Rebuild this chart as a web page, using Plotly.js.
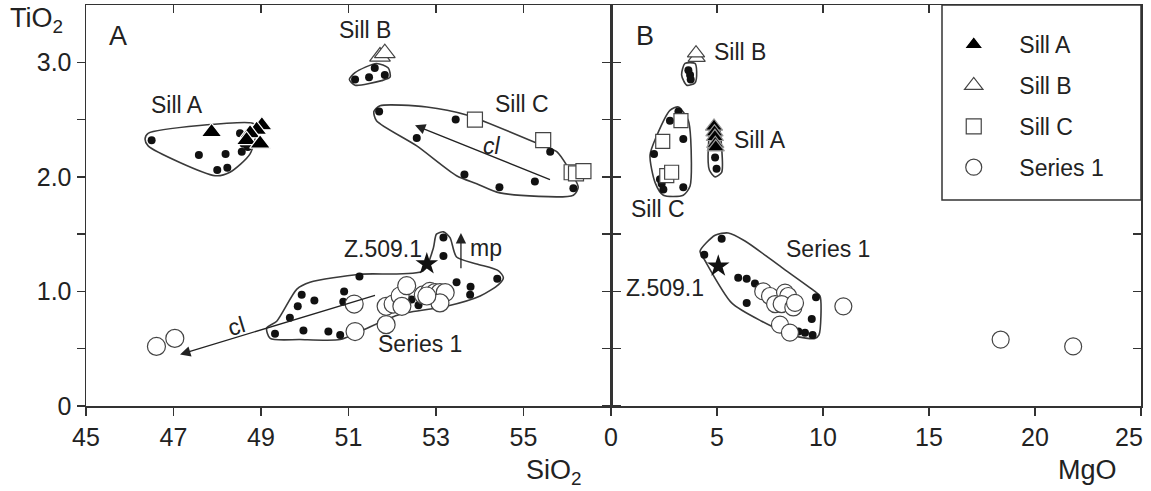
<!DOCTYPE html>
<html>
<head>
<meta charset="utf-8">
<script src="https://cdn.plot.ly/plotly-3.0.1.min.js"></script>
<style>html,body{margin:0;padding:0;background:#fff;}#chart{width:1151px;height:491px;}</style>
</head>
<body>
<div id="chart"></div>
<script>
// ---------- Panel A : SiO2 vs TiO2 ----------
const sillA_tri_si = [47.87, 49.02, 48.90, 48.75, 48.67, 48.98];
const sillA_tri_ti = [2.39, 2.45, 2.41, 2.38, 2.32, 2.29];
const sillA_dot_si = [46.50, 47.58, 48.19, 48.00, 48.23, 48.52, 48.60, 48.56, 48.70];
const sillA_dot_ti = [2.32, 2.19, 2.20, 2.06, 2.08, 2.38, 2.29, 2.22, 2.26];

const sillB_tri_si = [51.72, 51.83];
const sillB_tri_ti = [3.05, 3.08];
const sillB_dot_si = [51.60, 51.15, 51.47, 51.83];
const sillB_dot_ti = [2.95, 2.85, 2.87, 2.89];

const sillC_sq_si = [53.89, 55.45, 56.10, 56.20, 56.37];
const sillC_sq_ti = [2.50, 2.32, 2.04, 2.03, 2.05];
const sillC_dot_si = [51.70, 53.45, 52.56, 53.65, 54.45, 55.26, 56.14, 55.61];
const sillC_dot_ti = [2.57, 2.50, 2.34, 2.02, 1.91, 1.96, 1.90, 2.22];

const ser1_dot_si = [53.17, 53.17, 51.25, 49.93, 49.84, 50.22, 50.90, 50.88, 49.66, 49.32, 49.97, 50.54, 50.81, 53.47, 53.79, 53.78, 54.40, 52.60, 52.44];
const ser1_dot_ti = [1.47, 1.31, 1.13, 0.97, 0.87, 0.92, 1.00, 0.91, 0.77, 0.63, 0.66, 0.65, 0.62, 1.08, 1.04, 0.97, 1.11, 0.88, 0.93];
const ser1_circ_si = [51.13, 51.15, 51.86, 51.86, 52.02, 52.18, 52.33, 52.22, 52.71, 52.86, 52.98, 53.09, 53.21, 53.09, 52.79, 46.61, 47.03];
const ser1_circ_ti = [0.89, 0.65, 0.71, 0.87, 0.89, 0.96, 1.05, 0.87, 0.97, 1.00, 0.99, 0.99, 0.99, 0.90, 0.96, 0.52, 0.59];

const z509_si = [52.79];
const z509_ti_a = [1.24];

// outlines (panel A)
const hullA_si = [46.35, 46.42, 48.79, 48.90, 48.75, 48.29, 47.95, 46.42, 46.35];
const hullA_ti = [2.33, 2.38, 2.47, 2.44, 2.20, 2.04, 2.01, 2.27, 2.33];
const hullB_si = [51.02, 51.15, 51.64, 51.91, 51.95, 51.76, 51.15, 51.02];
const hullB_ti = [2.85, 2.91, 2.99, 2.95, 2.87, 2.84, 2.80, 2.85];
const hullC_si = [51.58, 51.72, 52.79, 53.70, 55.45, 55.76, 55.99, 56.25, 56.14, 54.46, 53.93, 53.47, 52.56, 51.64, 51.58];
const hullC_ti = [2.57, 2.62, 2.61, 2.54, 2.27, 2.22, 2.10, 1.91, 1.84, 1.86, 1.94, 2.01, 2.27, 2.49, 2.57];
const hullS_si = [49.82, 50.12, 51.26, 52.71, 52.94, 53.01, 53.17, 53.32, 53.47, 53.93, 54.43, 54.54, 54.43, 54.01, 53.24, 52.18, 51.26, 50.81, 49.89, 49.21, 49.13, 49.36, 49.82];
const hullS_ti = [1.02, 1.08, 1.15, 1.18, 1.38, 1.50, 1.52, 1.47, 1.30, 1.24, 1.18, 1.12, 1.06, 0.96, 0.87, 0.80, 0.65, 0.58, 0.58, 0.59, 0.68, 0.74, 1.02];

// ---------- Panel B : MgO vs TiO2 ----------
const sillA_tri_mg = [4.86, 4.88, 4.90, 4.92, 4.94];
const sillA_tri_ti_b = [2.44, 2.39, 2.35, 2.29, 2.26];
const sillA_dot_mg = [4.91, 4.98];
const sillA_dot_ti_b = [2.17, 2.07];

const sillB_tri_mg = [4.04, 4.01];
const sillB_tri_ti_b = [3.04, 3.08];
const sillB_dot_mg = [3.65, 3.73, 3.76];
const sillB_dot_ti_b = [2.93, 2.89, 2.85];

const sillC_sq_mg = [3.30, 2.44, 2.63, 2.86];
const sillC_sq_ti_b = [2.49, 2.31, 2.01, 2.04];
const sillC_dot_mg = [2.78, 3.18, 3.41, 2.03, 2.39, 2.47, 3.41, 2.31];
const sillC_dot_ti_b = [2.49, 2.57, 2.33, 2.20, 1.94, 1.89, 1.91, 1.98];

const ser1_dot_mg = [5.22, 4.40, 6.00, 6.40, 6.79, 6.40, 9.67, 9.47, 9.15, 9.51, 8.84];
const ser1_dot_ti_b = [1.46, 1.32, 1.12, 1.11, 1.07, 0.90, 0.95, 0.76, 0.64, 0.62, 0.65];
const ser1_circ_mg = [7.18, 7.50, 8.21, 8.36, 7.74, 8.05, 8.60, 8.68, 7.97, 8.44, 10.96, 18.38, 21.80];
const ser1_circ_ti_b = [1.00, 0.96, 0.99, 0.96, 0.89, 0.89, 0.86, 0.90, 0.71, 0.64, 0.87, 0.58, 0.52];

const z509_mg = [5.06];
const z509_ti_b = [1.22];

// outlines (panel B)
const hullB2_mg = [3.49, 3.96, 4.04, 3.96, 3.57, 3.33, 3.49];
const hullB2_ti = [2.99, 2.99, 2.92, 2.82, 2.80, 2.89, 2.99];
const hullC2_mg = [3.18, 3.65, 3.76, 3.73, 3.41, 2.47, 2.08, 1.84, 2.16, 2.78, 3.18];
const hullC2_ti = [2.61, 2.49, 2.33, 1.92, 1.84, 1.84, 1.95, 2.19, 2.36, 2.58, 2.61];
const hullA2_mg = [4.75, 5.06, 5.22, 5.22, 4.91, 4.64, 4.59, 4.75];
const hullA2_ti = [2.45, 2.45, 2.25, 2.04, 2.00, 2.06, 2.25, 2.45];
const hullS2_mg = [4.20, 4.91, 5.53, 6.32, 8.05, 9.62, 9.86, 9.81, 9.62, 8.68, 7.11, 5.69, 4.43, 4.20];
const hullS2_ti = [1.35, 1.49, 1.51, 1.44, 1.21, 1.00, 0.96, 0.62, 0.59, 0.61, 0.74, 0.90, 1.27, 1.35];

// axis ticks
const siTicks = [45, 47, 49, 51, 53, 55];
const mgTicks = [0, 5, 10, 15, 20, 25];
const mgTickText = ['0', '5', '10', '15', '20', ''];
const mgLastLabel = '25';
const tiTicks = [0, 0.5, 1.0, 1.5, 2.0, 2.5, 3.0];
const tiTickText = ['0', '', '1.0', '', '2.0', '', '3.0'];

const FONT = 'Liberation Sans, Arial, Helvetica, sans-serif';
const INK = '#222';
const LINE = '#333';
const TICKSIZE = 25;
const LBLSIZE = 23;

function hull(x, y, xa, ya) {
  return {x: x, y: y, xaxis: xa, yaxis: ya, mode: 'lines', type: 'scatter',
    line: {color: '#3a3a3a', width: 1.6, shape: 'spline', smoothing: 0.7},
    showlegend: false, hoverinfo: 'skip'};
}
function dots(x, y, xa, ya) {
  return {x: x, y: y, xaxis: xa, yaxis: ya, mode: 'markers', type: 'scatter',
    marker: {color: '#111', size: 8, line: {width: 0}}, showlegend: false, hoverinfo: 'skip'};
}
function sym(x, y, xa, ya, name, symbol, fill, size, lineCol, show) {
  return {x: x, y: y, xaxis: xa, yaxis: ya, mode: 'markers', type: 'scatter',
    name: '\u00a0\u00a0\u00a0\u00a0' + name, legendgroup: name, showlegend: show,
    marker: {symbol: symbol, color: fill, size: size, line: {color: lineCol, width: 1.2}},
    hoverinfo: 'skip'};
}

const traces = [
  hull(hullA_si, hullA_ti, 'x', 'y'), hull(hullB_si, hullB_ti, 'x', 'y'),
  hull(hullC_si, hullC_ti, 'x', 'y'), hull(hullS_si, hullS_ti, 'x', 'y'),
  hull(hullB2_mg, hullB2_ti, 'x2', 'y2'), hull(hullC2_mg, hullC2_ti, 'x2', 'y2'),
  hull(hullA2_mg, hullA2_ti, 'x2', 'y2'), hull(hullS2_mg, hullS2_ti, 'x2', 'y2'),
  dots(sillA_dot_si, sillA_dot_ti, 'x', 'y'), dots(sillB_dot_si, sillB_dot_ti, 'x', 'y'),
  dots(sillC_dot_si, sillC_dot_ti, 'x', 'y'), dots(ser1_dot_si, ser1_dot_ti, 'x', 'y'),
  dots(sillA_dot_mg, sillA_dot_ti_b, 'x2', 'y2'), dots(sillB_dot_mg, sillB_dot_ti_b, 'x2', 'y2'),
  dots(sillC_dot_mg, sillC_dot_ti_b, 'x2', 'y2'), dots(ser1_dot_mg, ser1_dot_ti_b, 'x2', 'y2'),
  // legend order: Sill A, Sill B, Sill C, Series 1
  sym(sillA_tri_si, sillA_tri_ti, 'x', 'y', 'Sill A', 'triangle-up', '#000', 18, '#fff', true),
  sym(sillB_tri_si, sillB_tri_ti, 'x', 'y', 'Sill B', 'triangle-up', '#fff', 18, '#444', true),
  sym(sillC_sq_si, sillC_sq_ti, 'x', 'y', 'Sill C', 'square', '#fff', 15, '#444', true),
  sym(ser1_circ_si, ser1_circ_ti, 'x', 'y', 'Series 1', 'circle', '#fff', 18, '#444', true),
  sym(sillA_tri_mg, sillA_tri_ti_b, 'x2', 'y2', 'Sill A', 'triangle-up', '#000', 15, '#999', false),
  sym(sillB_tri_mg, sillB_tri_ti_b, 'x2', 'y2', 'Sill B', 'triangle-up', '#fff', 15, '#444', false),
  sym(sillC_sq_mg, sillC_sq_ti_b, 'x2', 'y2', 'Sill C', 'square', '#fff', 14, '#444', false),
  sym(ser1_circ_mg, ser1_circ_ti_b, 'x2', 'y2', 'Series 1', 'circle', '#fff', 17, '#444', false),
  {x: z509_si, y: z509_ti_a, xaxis: 'x', yaxis: 'y', mode: 'markers', type: 'scatter',
    marker: {symbol: 'star', color: '#111', size: 17}, showlegend: false, hoverinfo: 'skip'},
  {x: z509_mg, y: z509_ti_b, xaxis: 'x2', yaxis: 'y2', mode: 'markers', type: 'scatter',
    marker: {symbol: 'star', color: '#111', size: 17}, showlegend: false, hoverinfo: 'skip'},
  // invisible anchors so that the mirror axes are drawn
  {x: [50], y: [1], xaxis: 'x3', yaxis: 'y', mode: 'markers', marker: {opacity: 0}, showlegend: false, hoverinfo: 'skip'},
  {x: [10], y: [1], xaxis: 'x4', yaxis: 'y2', mode: 'markers', marker: {opacity: 0}, showlegend: false, hoverinfo: 'skip'},
  {x: [10], y: [1], xaxis: 'x2', yaxis: 'y3', mode: 'markers', marker: {opacity: 0}, showlegend: false, hoverinfo: 'skip'}
];

const split = 525 / 1055;
const axBase = {showgrid: false, zeroline: false, showline: true, linecolor: LINE, linewidth: 1.5,
  tickcolor: LINE, tickwidth: 1.3, ticklen: 8, tickfont: {family: FONT, size: TICKSIZE, color: INK}, fixedrange: true};

const lbl = (t, x, y, xr, yr, size, extra) => Object.assign({text: t, x: x, y: y, xref: xr, yref: yr,
  xanchor: 'center', yanchor: 'middle', showarrow: false, font: {family: FONT, size: size, color: INK}}, extra || {});
const arrow = (x, y, ax, ay, xr, yr) => ({text: '', x: x, y: y, ax: ax, ay: ay, xref: xr, yref: yr,
  axref: xr, ayref: yr, showarrow: true, arrowhead: 2, arrowsize: 1.6, arrowwidth: 1.3, arrowcolor: '#222'});

const layout = {
  width: 1151, height: 491,
  margin: {l: 86, r: 10, t: 5, b: 85, pad: 0},
  paper_bgcolor: '#fff', plot_bgcolor: '#fff',
  font: {family: FONT, color: INK},
  xaxis: Object.assign({}, axBase, {domain: [0, split], range: [45, 57], tickvals: siTicks, ticks: 'outside', anchor: 'y'}),
  xaxis3: Object.assign({}, axBase, {overlaying: 'x', side: 'top', anchor: 'y', range: [45, 57], tickvals: siTicks, ticks: 'inside', showticklabels: false}),
  xaxis2: Object.assign({}, axBase, {domain: [split, 1], range: [0, 25], tickvals: mgTicks, ticktext: mgTickText, ticks: 'outside', anchor: 'y2'}),
  xaxis4: Object.assign({}, axBase, {overlaying: 'x2', side: 'top', anchor: 'y2', range: [0, 25], tickvals: mgTicks, ticks: 'inside', showticklabels: false}),
  yaxis: Object.assign({}, axBase, {domain: [0, 1], range: [0, 3.5], tickvals: tiTicks, ticktext: tiTickText, ticks: 'outside', anchor: 'x', mirror: 'ticks'}),
  yaxis2: Object.assign({}, axBase, {domain: [0, 1], range: [0, 3.5], tickvals: tiTicks, ticks: 'outside', anchor: 'x2', showticklabels: false}),
  yaxis3: Object.assign({}, axBase, {overlaying: 'y2', side: 'right', anchor: 'x2', range: [0, 3.5], tickvals: tiTicks, ticks: 'inside', showticklabels: false}),
  showlegend: true,
  legend: {x: 0.8225, y: 0.955, xanchor: 'left', yanchor: 'top', bgcolor: 'rgba(0,0,0,0)', borderwidth: 0,
    font: {family: FONT, size: 23, color: INK}, tracegroupgap: 8, itemclick: false},
  shapes: [
    {type: 'rect', xref: 'paper', yref: 'paper', x0: (942 - 86) / 1055, x1: 1, y0: (406 - 200) / 401, y1: 1,
      fillcolor: '#fff', line: {color: LINE, width: 1.5}, layer: 'above'}
  ],
  annotations: [
    lbl('TiO<sub>2</sub>', -0.047, 0.962, 'paper', 'paper', 27),
    lbl('SiO<sub>2</sub>', 0.444, -0.165, 'paper', 'paper', 27),
    lbl('MgO', 0.949, -0.16, 'paper', 'paper', 27),
    lbl(mgLastLabel, 25, -0.077, 'x2', 'paper', TICKSIZE, {xanchor: 'right', xshift: 4}),
    lbl('A', 45.73, 3.23, 'x', 'y', 27),
    lbl('B', 1.6, 3.23, 'x2', 'y2', 27),
    lbl('Sill A', 47.07, 2.63, 'x', 'y', LBLSIZE),
    lbl('Sill B', 51.38, 3.28, 'x', 'y', LBLSIZE),
    lbl('Sill C', 54.96, 2.64, 'x', 'y', LBLSIZE),
    lbl('Z.509.1', 51.78, 1.37, 'x', 'y', LBLSIZE),
    lbl('mp', 54.14, 1.38, 'x', 'y', LBLSIZE),
    lbl('Series 1', 52.63, 0.54, 'x', 'y', LBLSIZE),
    lbl('<i>cl</i>', 54.27, 2.27, 'x', 'y', LBLSIZE),
    lbl('cl', 48.44, 0.70, 'x', 'y', LBLSIZE, {textangle: -17}),
    lbl('Sill B', 6.08, 3.09, 'x2', 'y2', LBLSIZE),
    lbl('Sill A', 7.03, 2.32, 'x2', 'y2', LBLSIZE),
    lbl('Sill C', 2.23, 1.72, 'x2', 'y2', LBLSIZE),
    lbl('Series 1', 10.25, 1.37, 'x2', 'y2', LBLSIZE),
    lbl('Z.509.1', 2.55, 1.03, 'x2', 'y2', LBLSIZE),
    arrow(52.52, 2.45, 55.64, 1.97, 'x', 'y'),
    arrow(47.15, 0.45, 51.64, 0.97, 'x', 'y'),
    arrow(53.57, 1.51, 53.57, 1.19, 'x', 'y')
  ]
};

Plotly.newPlot('chart', traces, layout, {staticPlot: true, displayModeBar: false});
</script>
</body>
</html>
